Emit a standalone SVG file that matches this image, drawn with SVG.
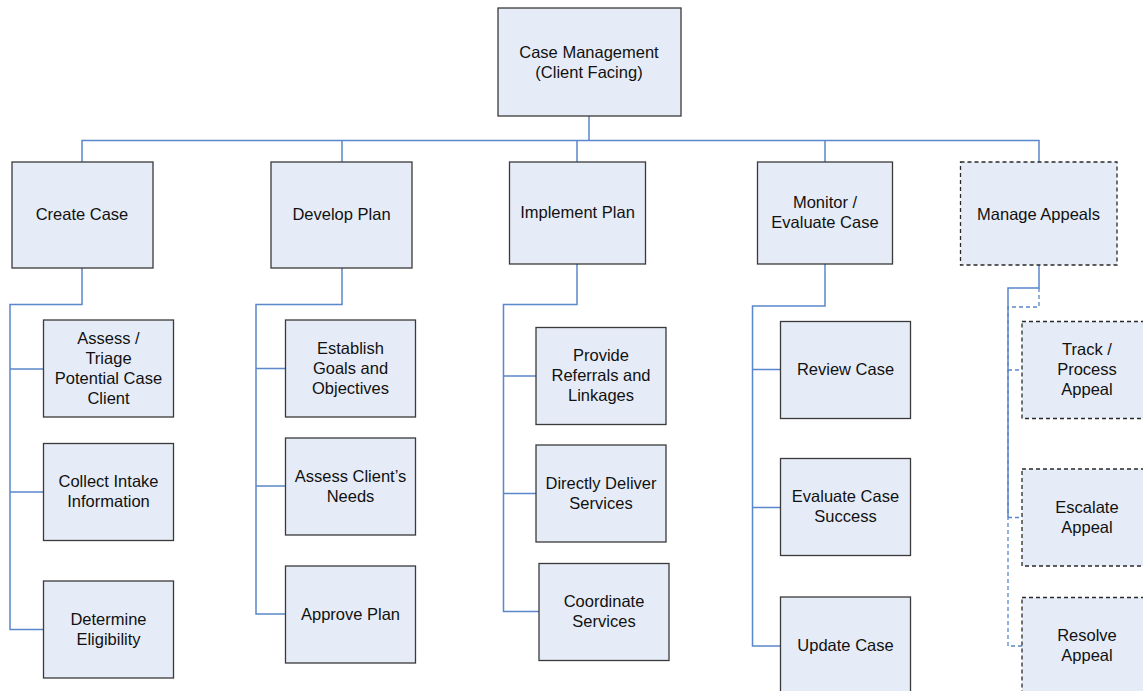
<svg xmlns="http://www.w3.org/2000/svg" width="1143" height="691" viewBox="0 0 1143 691">
<style>
.box{fill:#E6ECF7;stroke:#3a3a3a;stroke-width:1.3}
.dbox{fill:#E6ECF7;stroke:#2a2a2a;stroke-width:1.3;stroke-dasharray:4 3}
.c{fill:none;stroke:#5A87C9;stroke-width:1.5}
.cd{fill:none;stroke:#5A87C9;stroke-width:1.3;stroke-dasharray:4 3}
text{font-family:"Liberation Sans",Arial,sans-serif;font-size:16.5px;fill:#111;text-anchor:middle}
</style>
<rect width="1143" height="691" fill="#fff"/>
<g id="connectors">
<path class="c" d="M589,116V140.5M82,162V140.5H1039V162M342,140.5V162M577,140.5V162M825,140.5V162"/>
<path class="c" d="M82,268V304.5H10V629.5H44M10,369H44M10,492H44"/>
<path class="c" d="M342,268V304.5H256V614H286M256,368.5H286M256,486H286"/>
<path class="c" d="M577,264V304.5H503.5V611.5H539M503.5,376H536M503.5,493.5H536"/>
<path class="c" d="M825,264V306H752.5V646H781M752.5,369.5H781M752.5,507.5H781"/>
<path class="c" d="M1039,265V288H1008V517"/>
<path class="cd" d="M1039,288V307H1008V646H1022M1008,370H1022M1008,517.5H1022"/>
</g>
<g id="root"><rect class="box" x="498" y="8" width="183" height="108"/><text x="589" y="57.5">Case Management</text><text x="589" y="77.5">(Client Facing)</text></g>
<g id="create-case"><rect class="box" x="12" y="162" width="141" height="106"/><text x="82" y="219.5">Create Case</text></g>
<g id="develop-plan"><rect class="box" x="271" y="162" width="141" height="106"/><text x="341.5" y="219.5">Develop Plan</text></g>
<g id="implement-plan"><rect class="box" x="509.5" y="162" width="136" height="102"/><text x="577.5" y="217.5">Implement Plan</text></g>
<g id="monitor"><rect class="box" x="757.5" y="162" width="135" height="102"/><text x="825" y="207.5">Monitor /</text><text x="825" y="227.5">Evaluate Case</text></g>
<g id="manage-appeals"><rect class="dbox" x="960.5" y="162" width="156.5" height="103"/><text x="1038.5" y="219.5">Manage Appeals</text></g>
<g id="assess-triage"><rect class="box" x="43.5" y="320" width="130" height="97"/><text x="108.5" y="344">Assess /</text><text x="108.5" y="364">Triage</text><text x="108.5" y="384">Potential Case</text><text x="108.5" y="404">Client</text></g>
<g id="collect-intake"><rect class="box" x="43.5" y="443.5" width="130" height="97"/><text x="108.5" y="486.5">Collect Intake</text><text x="108.5" y="506.5">Information</text></g>
<g id="determine-eligibility"><rect class="box" x="43.5" y="581" width="130" height="97"/><text x="108.5" y="624.5">Determine</text><text x="108.5" y="644.5">Eligibility</text></g>
<g id="establish-goals"><rect class="box" x="285.5" y="320" width="130" height="97"/><text x="350.5" y="354">Establish</text><text x="350.5" y="374">Goals and</text><text x="350.5" y="394">Objectives</text></g>
<g id="assess-needs"><rect class="box" x="285.5" y="438" width="130" height="97"/><text x="350.5" y="481.5">Assess Client’s</text><text x="350.5" y="501.5">Needs</text></g>
<g id="approve-plan"><rect class="box" x="285.5" y="566" width="130" height="97"/><text x="350.5" y="619.5">Approve Plan</text></g>
<g id="provide-referrals"><rect class="box" x="536" y="327.5" width="130" height="97"/><text x="601" y="361">Provide</text><text x="601" y="381">Referrals and</text><text x="601" y="401">Linkages</text></g>
<g id="directly-deliver"><rect class="box" x="536" y="445" width="130" height="97"/><text x="601" y="488.5">Directly Deliver</text><text x="601" y="508.5">Services</text></g>
<g id="coordinate"><rect class="box" x="539" y="563.5" width="130" height="97"/><text x="604" y="606.5">Coordinate</text><text x="604" y="626.5">Services</text></g>
<g id="review-case"><rect class="box" x="780.5" y="321.5" width="130" height="97"/><text x="845.5" y="374.5">Review Case</text></g>
<g id="evaluate-success"><rect class="box" x="780.5" y="458.5" width="130" height="97"/><text x="845.5" y="501.5">Evaluate Case</text><text x="845.5" y="521.5">Success</text></g>
<g id="update-case"><rect class="box" x="780.5" y="597" width="130" height="97"/><text x="845.5" y="650.5">Update Case</text></g>
<g id="track-appeal"><rect class="dbox" x="1022" y="321.5" width="130" height="97"/><text x="1087" y="354.5">Track /</text><text x="1087" y="374.5">Process</text><text x="1087" y="394.5">Appeal</text></g>
<g id="escalate-appeal"><rect class="dbox" x="1022" y="469" width="130" height="97"/><text x="1087" y="512.5">Escalate</text><text x="1087" y="532.5">Appeal</text></g>
<g id="resolve-appeal"><rect class="dbox" x="1022" y="597.5" width="130" height="97"/><text x="1087" y="640.5">Resolve</text><text x="1087" y="660.5">Appeal</text></g>
</svg>
